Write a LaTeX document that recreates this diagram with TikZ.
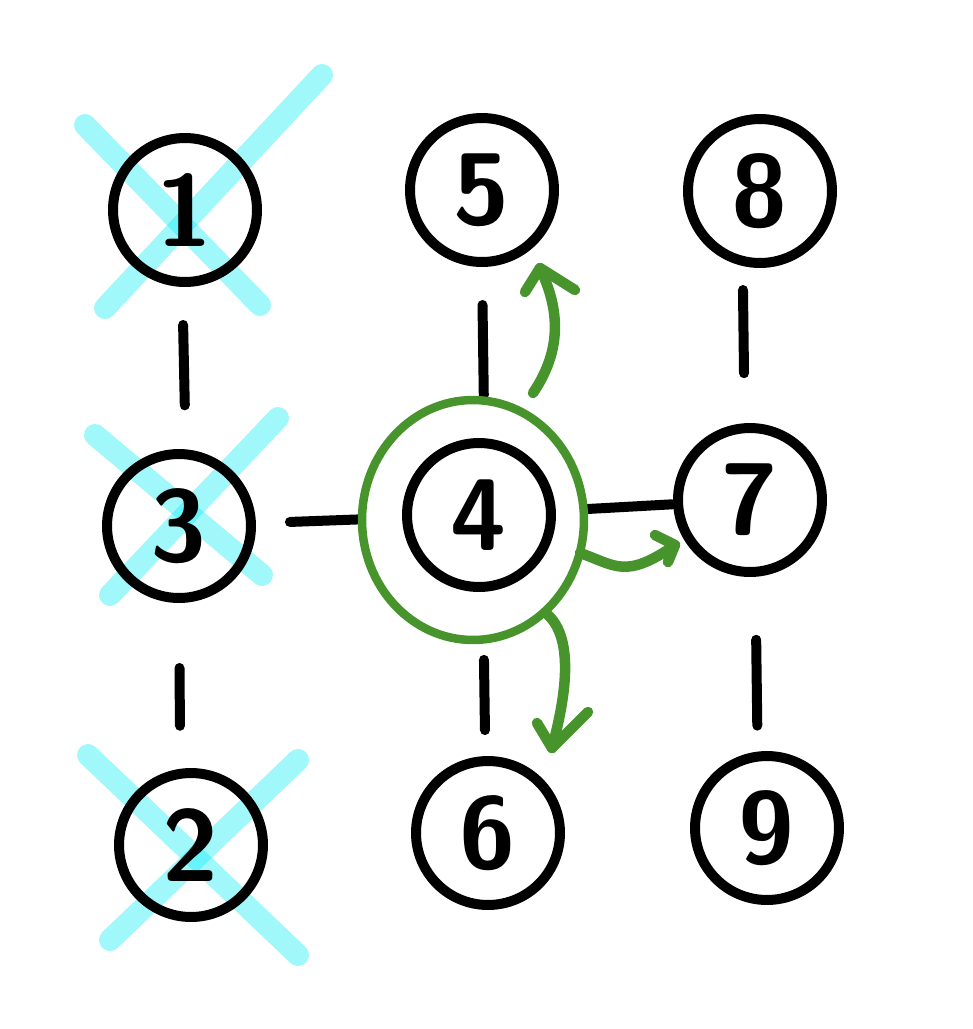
\documentclass[tikz,border=0pt]{standalone}
\usepackage{tikz}
\usetikzlibrary{shapes.geometric}
\definecolor{grn}{HTML}{48942C}
\definecolor{cyn}{RGB}{0,235,245}
\begin{document}
\begin{tikzpicture}[x=0.02cm,y=-0.02cm,
  vtx/.style={circle,draw=black,line width=0.2cm,minimum size=2.88cm,inner sep=0pt,
    font=\fontsize{58}{58}\selectfont\sffamily\bfseries},
  link/.style={line width=0.2cm,line cap=round,black},
  cross/.style={line width=0.44cm,line cap=round,cyn,opacity=0.37},
  garrow/.style={line width=0.21cm,line cap=round,line join=round,grn}]
\useasboundingbox (0,0) rectangle (973,1029);
% crosses (behind)
\draw[cross] (85,125) -- (260,305);
\draw[cross] (105,308) -- (322,75);
\draw[cross] (95,435) -- (262,575);
\draw[cross] (110,595) -- (278,418);
\draw[cross] (88,755) -- (298,955);
\draw[cross] (110,940) -- (298,760);
% nodes
\node[vtx] (n1) at (185,210) {1};
\node[vtx] (n5) at (482,190) {5};
\node[vtx] (n8) at (760,191) {8};
\node[vtx] (n3) at (179,526) {3};
\node[vtx] (n4) at (479,515) {4};
\node[vtx] (n7) at (750,500) {7};
\node[vtx] (n2) at (191,845) {2};
\node[vtx] (n6) at (488,833) {6};
\node[vtx] (n9) at (767,828) {9};
% edges
\draw[link,shorten <=0.76cm,shorten >=0.88cm] (n1.-92) -- (n3.85);
\draw[link,shorten <=1.3cm,shorten >=0.86cm] (n3.-90) -- (n2.98);
\draw[link,shorten <=0.76cm,shorten >=0.86cm] (n5.-90) -- (n4.86);
\draw[link,shorten <=1.36cm,shorten >=0.52cm] (n4.-87) -- (n6.92);
\draw[link,shorten <=0.48cm,shorten >=1.0cm] (n8.-103) -- (n7.94);
\draw[link,shorten <=1.26cm,shorten >=0.52cm] (n7.-86) -- (n9.97);
\draw[link,shorten <=0.68cm,shorten >=0.88cm] (n3) -- (n4);
\draw[link,shorten <=0.64cm,shorten >=0.02cm] (n4) -- (n7);
% green
\node[draw=grn,line width=0.17cm,ellipse,minimum width=4.44cm,minimum height=4.8cm,inner sep=0pt] (g4) at (473,520) {};
\coordinate (t1) at (540,268);
\draw[garrow] (533,393) .. controls (562,350) and (560,310) .. (t1);
\draw[garrow] (525,292) -- (t1) -- (575,290);
\coordinate (t2) at (675,545);
\draw[garrow] (580,553) .. controls (615,565) and (625,580) .. (t2);
\draw[garrow] (655,535) -- (t2) -- (668,562);
\coordinate (t3) at (552,748);
\draw[garrow] (548,615) .. controls (575,640) and (565,700) .. (t3);
\draw[garrow] (537,723) -- (t3) -- (588,712);
\end{tikzpicture}
\end{document}
